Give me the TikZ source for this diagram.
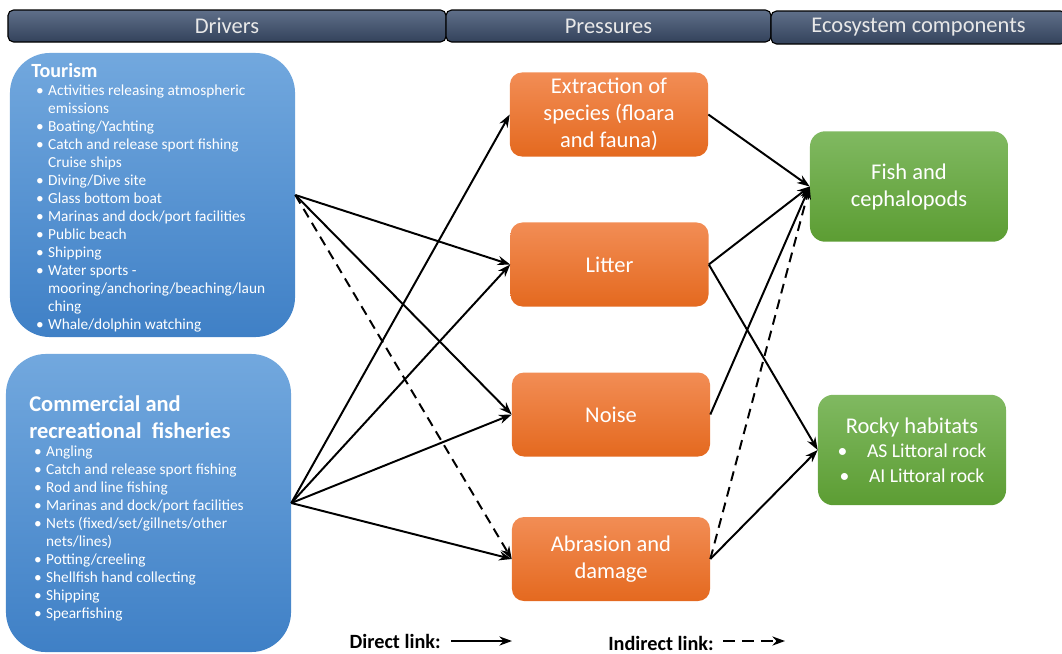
\documentclass[tikz,border=0pt]{standalone}
\usepackage{fontspec}
\setmainfont{Carlito}
\usetikzlibrary{arrows.meta}
\definecolor{HdrTop}{HTML}{5F6F89}
\definecolor{HdrBot}{HTML}{33425B}
\definecolor{HdrTxt}{HTML}{E8E8E8}
\definecolor{DrvTop}{HTML}{72A8DE}
\definecolor{DrvBot}{HTML}{3F80C6}
\definecolor{PrsTop}{HTML}{F28D55}
\definecolor{PrsBot}{HTML}{E4691F}
\definecolor{EcoTop}{HTML}{80B961}
\definecolor{EcoBot}{HTML}{5C9D33}
\newcommand{\bitem}{\hspace*{3.5pt}\makebox[8.5pt][l]{\textbullet}}
\newcommand{\bcont}{\hspace*{12pt}}

\begin{document}
\begin{tikzpicture}[x=0.025cm,y=-0.025cm,
  hdr/.style={draw=black,line width=0.8pt,rounded corners=4pt,top color=HdrTop,bottom color=HdrBot,
    text=HdrTxt,font=\fontsize{16}{19}\selectfont,minimum height=0.8cm,inner sep=0pt},
  drv/.style={rounded corners=1cm,top color=DrvTop,bottom color=DrvBot,minimum width=7.125cm,inner sep=0pt},
  drvtxt/.style={anchor=north west,align=left,text=white,inner sep=0pt,font=\fontsize{10.9}{12.8}\selectfont},
  prs/.style={rounded corners=0.3cm,top color=PrsTop,bottom color=PrsBot,minimum width=4.95cm,minimum height=2.1cm,
    text=white,align=center,font=\fontsize{16}{19.2}\selectfont},
  eco/.style={rounded corners=0.38cm,top color=EcoTop,bottom color=EcoBot,minimum height=2.76cm,
    text=white,align=center,font=\fontsize{16}{19.2}\selectfont},
  lnk/.style={-{Stealth[length=9pt,width=6.5pt]},line width=1.4pt},
  ind/.style={lnk,dash pattern=on 7pt off 4.5pt},
  lgd/.style={font=\fontsize{14.4}{17}\selectfont\bfseries,inner sep=0pt}]
\useasboundingbox (0,0) rectangle (1062,653);

\node[hdr,minimum width=10.95cm] (hdrv) at (227,26) {Drivers};
\node[hdr,minimum width=8.125cm] (hprs) at (608.5,26) {Pressures};
\node[hdr,minimum width=7.375cm,minimum height=0.825cm] (heco) at (918.5,27.5) {Ecosystem components};

\node[drv,minimum height=7.1cm] (tour) at (152.5,195) {};
\node[drv,minimum height=7.45cm] (comm) at (148.5,503) {};

\node[drvtxt] (tourtxt) at (31,63) {{\fontsize{14.3}{14}\selectfont\bfseries Tourism}\\
\bitem Activities releasing atmospheric\\
\bcont emissions\\
\bitem Boating/Yachting\\
\bitem Catch and release sport fishing\\
\bcont Cruise ships\\
\bitem Diving/Dive site\\
\bitem Glass bottom boat\\
\bitem Marinas and dock/port facilities\\
\bitem Public beach\\
\bitem Shipping\\
\bitem Water sports -\\
\bcont mooring/anchoring/beaching/laun\\
\bcont ching\\
\bitem Whale/dolphin watching};

\node[drvtxt] (commtxt) at (29,395) {{\fontsize{16}{16}\selectfont\bfseries Commercial and}\\[6.4pt]
{\fontsize{16}{16}\selectfont\bfseries recreational\ \ fisheries}\\
\bitem Angling\\
\bitem Catch and release sport fishing\\
\bitem Rod and line fishing\\
\bitem Marinas and dock/port facilities\\
\bitem Nets (fixed/set/gillnets/other\\
\bcont nets/lines)\\
\bitem Potting/creeling\\
\bitem Shellfish hand collecting\\
\bitem Shipping\\
\bitem Spearfishing};

\node[prs] (extr) at (609,114.5) {Extraction of\\species (floara\\and fauna)};
\node[prs] (litt) at (609.5,264.5) {Litter};
\node[prs] (nois) at (611,414.5) {Noise};
\node[prs] (abra) at (611,559) {Abrasion and\\damage};

\node[eco,minimum width=4.95cm] (fish) at (909,186.5) {Fish and\\cephalopods};
\node[eco,minimum width=4.7cm,font=\fontsize{16}{17.5}\selectfont] (rock) at (912,450) {Rocky habitats\\
{\fontsize{14}{17.5}\selectfont\textbullet\hspace{14pt}AS Littoral rock}\\
{\fontsize{14}{17.5}\selectfont\textbullet\hspace{14pt}AI Littoral rock}};

\draw[lnk] (tour.east) -- (litt.west);
\draw[lnk] (tour.east) -- (nois.west);
\draw[ind] (tour.east) -- (abra.west);
\draw[lnk] (comm.east) -- (extr.west);
\draw[lnk] (comm.east) -- (litt.west);
\draw[lnk] (comm.east) -- (nois.west);
\draw[lnk] (comm.east) -- (abra.west);

\draw[lnk] (extr.east) -- (fish.west);
\draw[lnk] (litt.east) -- (fish.west);
\draw[lnk] (litt.east) -- (rock.west);
\draw[lnk] (nois.east) -- (fish.west);
\draw[lnk] (abra.east) -- (rock.west);
\draw[ind] (abra.east) -- (fish.west);

\node[lgd,anchor=east] (ldir) at (441,641) {Direct link:};
\coordinate (ld1) at (451,641);
\coordinate (ld2) at (512,641);
\draw[lnk] (ld1) -- (ld2);
\node[lgd,anchor=east] (lind) at (714,643) {Indirect link:};
\coordinate (li1) at (723,641);
\coordinate (li2) at (785,641);
\draw[lnk,dash pattern=on 8.5pt off 5pt] (li1) -- (li2);
\end{tikzpicture}
\end{document}
